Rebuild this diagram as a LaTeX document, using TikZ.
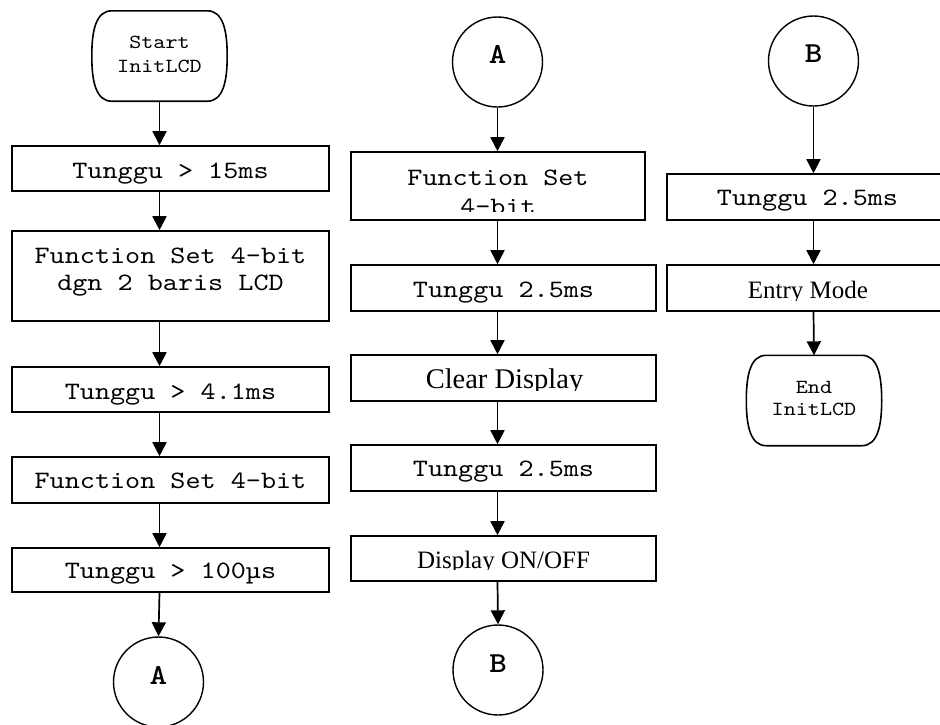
\documentclass[tikz,border=0pt]{standalone}
\usepackage{fontspec}
\setmainfont{Liberation Serif}
\setmonofont{lmmono10-regular.otf}[BoldFont=lmmonolt10-bold.otf, FakeStretch=1.15]
\usetikzlibrary{arrows.meta}

% outline of a start/end terminal drawn round a named node
\newcommand\termoutline[1]{%
  \draw[boxline]
    ([xshift=20pt]#1.north west) -- ([xshift=-20pt]#1.north east)
    .. controls ([xshift=-4pt]#1.north east) and ([yshift=-20pt]#1.north east) .. (#1.east)
    .. controls ([yshift=20pt]#1.south east) and ([xshift=-4pt]#1.south east) .. ([xshift=-20pt]#1.south east)
    -- ([xshift=20pt]#1.south west)
    .. controls ([xshift=4pt]#1.south west) and ([yshift=20pt]#1.south west) .. (#1.west)
    .. controls ([yshift=-20pt]#1.north west) and ([xshift=4pt]#1.north west) .. cycle;}

\tikzset{
  x=1pt, y=-1pt,
  boxline/.style={line width=1.6pt},
  proc/.style={draw, boxline, rectangle, inner sep=0pt},
  conn/.style={draw, circle, line width=1.4pt, minimum size=90pt, inner sep=0pt},
  term/.style={inner sep=0pt, minimum width=135pt, minimum height=90pt},
  flow/.style={line width=1.7pt, -{Triangle[length=14pt,width=14pt]}},
  mono/.style={font=\fontsize{25}{28}\selectfont\ttfamily, inner sep=0pt, anchor=base},
  small/.style={font=\fontsize{20}{23}\selectfont\ttfamily, inner sep=0pt, anchor=base},
  serif/.style={font=\fontsize{25}{28}\selectfont\rmfamily, inner sep=0pt, anchor=base},
  letter/.style={font=\fontsize{29}{32}\selectfont\ttfamily\bfseries, inner sep=0pt, anchor=base},
}

\begin{document}
\begin{tikzpicture}
\useasboundingbox (0,0) rectangle (940,724);
\clip (0,0) rectangle (940,724);

% ---------------- first column ----------------
\node[term] (start) at (159.5,56) {};
\termoutline{start}
\node[small] (tstart1) at (159.5,48) {Start};
\node[small] (tstart2) at (159.5,72) {InitLCD};

\node[proc, minimum width=317pt, minimum height=45pt] (b1) at (170.5,168.5) {};
\node[mono] (tb1) at (170.5,178) {Tunggu > 15ms};

\node[proc, minimum width=317pt, minimum height=90pt] (b2) at (170.5,276) {};
\node[mono] (tb2a) at (170.5,263) {Function Set 4-bit};
\node[mono] (tb2b) at (170.5,290) {dgn 2 baris LCD};

\node[proc, minimum width=317pt, minimum height=45pt] (b3) at (170.5,389.5) {};
\node[mono] (tb3) at (170.5,399) {Tunggu > 4.1ms};

\node[proc, minimum width=317pt, minimum height=46pt] (b4) at (170.5,480) {};
\node[mono] (tb4) at (170.5,488) {Function Set 4-bit};

\node[proc, minimum width=317pt, minimum height=44pt] (b5) at (170.5,570) {};
\node[mono] (tb5) at (170.5,578) {Tunggu > 100µs};

\node[conn] (A1) at (158.5,682) {};
\node[letter] (tA1) at (158.5,684) {A};

\draw[flow] (start.south) -- (start.south |- b1.north);
\draw[flow] (start.south |- b1.south) -- (start.south |- b2.north);
\draw[flow] (start.south |- b2.south) -- (start.south |- b3.north);
\draw[flow] (start.south |- b3.south) -- (start.south |- b4.north);
\draw[flow] (start.south |- b4.south) -- (start.south |- b5.north);
\draw[flow] (start.south |- b5.south) -- (A1.north);

% ---------------- second column ----------------
\node[conn] (A2) at (497.5,62) {};
\node[letter] (tA2) at (497.5,63) {A};

\node[proc, minimum width=294pt, minimum height=68pt] (m1) at (498,186) {};
\begin{scope}
  \clip (m1.north west) rectangle (m1.east |- 0,211);
  \node[mono] (tm1a) at (498,185) {Function Set};
  \node[mono] (tm1b) at (498,214) {4-bit};
\end{scope}

\node[proc, minimum width=305pt, minimum height=46pt] (m2) at (503.5,288) {};
\node[mono] (tm2) at (503.5,297) {Tunggu 2.5ms};

\node[proc, minimum width=305pt, minimum height=46pt] (m3) at (503.5,378) {};
\begin{scope}
  \clip (m3.north west) rectangle (m3.east |- 0,390);
  \node[serif, font=\fontsize{28.5}{32}\selectfont\rmfamily] (tm3) at (504.5,388) {Clear Display};
\end{scope}

\node[proc, minimum width=305pt, minimum height=46pt] (m4) at (503.5,468) {};
\node[mono] (tm4) at (503.5,476) {Tunggu 2.5ms};

\node[proc, minimum width=305pt, minimum height=45pt] (m5) at (503.5,558.5) {};
\begin{scope}
  \clip (m5.north west) rectangle (m5.east |- 0,569);
  \node[serif] (tm5) at (503.5,568) {Display ON/OFF};
\end{scope}

\node[conn] (B1) at (498,670) {};
\node[letter] (tB1) at (498,672) {B};

\draw[flow] (A2.south) -- (A2.south |- m1.north);
\draw[flow] (A2.south |- m1.south) -- (A2.south |- m2.north);
\draw[flow] (A2.south |- m2.south) -- (A2.south |- m3.north);
\draw[flow] (A2.south |- m3.south) -- (A2.south |- m4.north);
\draw[flow] (A2.south |- m4.south) -- (A2.south |- m5.north);
\draw[flow] (A2.south |- m5.south) -- (B1.north);

% ---------------- third column ----------------
\node[conn] (B2) at (813.5,61) {};
\node[letter] (tB2) at (813.5,62) {B};

\node[proc, minimum width=281pt, minimum height=46pt] (r1) at (807.5,197) {};
\node[mono] (tr1) at (807.5,205) {Tunggu 2.5ms};

\node[proc, minimum width=281pt, minimum height=46pt] (r2) at (807.5,288) {};
\begin{scope}
  \clip (r2.north west) rectangle (r2.east |- 0,300);
  \node[serif] (tr2) at (808,298) {Entry Mode};
\end{scope}

\node[term] (stop) at (814,400.5) {};
\termoutline{stop}
\node[small] (tstop1) at (814,393) {End};
\node[small] (tstop2) at (814,415) {InitLCD};

\draw[flow] (B2.south) -- (B2.south |- r1.north);
\draw[flow] (B2.south |- r1.south) -- (B2.south |- r2.north);
\draw[flow] (B2.south |- r2.south) -- (stop.north);
\end{tikzpicture}
\end{document}
